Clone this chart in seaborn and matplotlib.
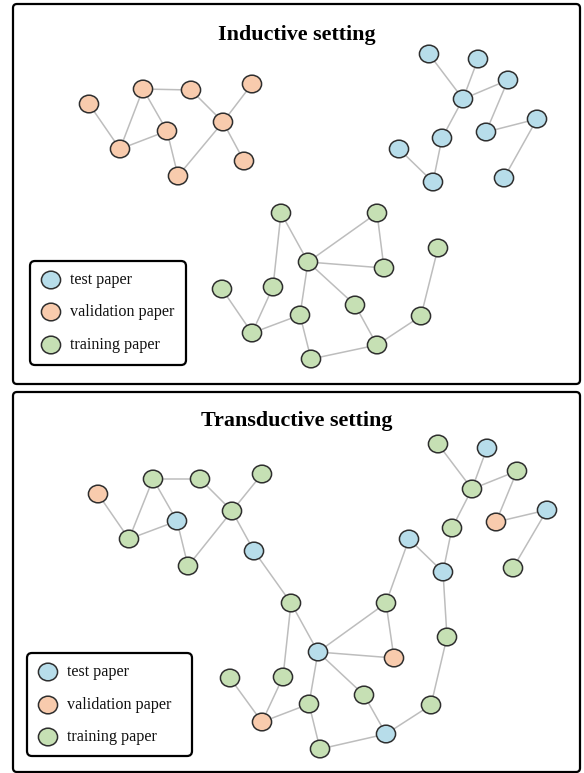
import matplotlib
matplotlib.use("Agg")
import matplotlib.pyplot as plt
import seaborn as sns
import pandas as pd
import numpy as np
from matplotlib.patches import FancyBboxPatch
from matplotlib.path import Path
from matplotlib.transforms import Affine2D
from matplotlib.collections import LineCollection

# ---------------- data ----------------
titles = ["Inductive setting", "Transductive setting"]
legend_kinds = ["test", "validation", "training"]
legend_labels = ["test paper", "validation paper", "training paper"]

ind_x = [89, 143, 191, 252, 223, 167, 120, 178, 244,
         429, 478, 508, 463, 537, 486, 442, 399, 433, 504,
         281, 377, 308, 384, 438, 222, 273, 300, 355, 421, 252, 377, 311]
ind_y = [104, 89, 90, 84, 122, 131, 149, 176, 161,
         54, 59, 80, 99, 119, 132, 138, 149, 182, 178,
         213, 213, 262, 268, 248, 289, 287, 315, 305, 316, 333, 345, 359]
ind_kind = ["validation"] * 9 + ["test"] * 10 + ["training"] * 13
ind_edges = [(0, 6), (6, 1), (6, 5), (1, 2), (1, 5), (5, 7), (7, 4), (2, 4), (4, 3), (4, 8),
             (9, 12), (10, 12), (12, 11), (11, 14), (14, 13), (13, 18), (12, 15), (15, 17), (17, 16),
             (19, 25), (19, 21), (21, 20), (21, 22), (20, 22), (21, 26), (21, 27), (27, 30),
             (26, 31), (31, 30), (30, 28), (28, 23), (24, 29), (29, 25), (29, 26)]

tra_x = [98, 153, 200, 262, 232, 177, 129, 188, 254,
         438, 487, 517, 472, 547, 496, 452, 409, 443, 513,
         291, 386, 318, 394, 447, 364, 309, 431, 386, 320, 230, 283, 262]
tra_y = [494, 479, 479, 474, 511, 521, 539, 566, 551,
         444, 448, 471, 489, 510, 522, 528, 539, 572, 568,
         603, 603, 652, 658, 637, 695, 704, 705, 734, 749, 678, 677, 722]
tra_kind = ["validation", "training", "training", "training", "training", "test", "training", "training", "test",
            "training", "test", "training", "training", "test", "validation", "training", "test", "test", "training",
            "training", "training", "test", "validation", "training", "training", "training", "training", "test",
            "training", "training", "training", "validation"]
tra_edges = [(0, 6), (6, 1), (6, 5), (1, 2), (1, 5), (5, 7), (7, 4), (2, 4), (4, 3), (4, 8),
             (9, 12), (10, 12), (12, 11), (11, 14), (14, 13), (13, 18), (12, 15), (15, 17), (17, 16),
             (19, 30), (19, 21), (21, 20), (21, 22), (20, 22), (21, 25), (21, 24), (24, 27),
             (25, 28), (28, 27), (27, 26), (26, 23), (29, 31), (31, 30), (31, 25),
             (8, 19), (16, 20), (17, 23)]

palette = {"test": "#B7DDEA", "validation": "#F8CBAD", "training": "#C6E0B4"}

# ---------------- drawing ----------------
sns.set_theme(style="white")
plt.rcParams["font.family"] = ["Liberation Serif", "DejaVu Serif"]

W, H = 584, 773
fig = plt.figure(figsize=(W / 100, H / 100), dpi=100)
ax = fig.add_axes([0, 0, 1, 1])
ax.set_xlim(0, W)
ax.set_ylim(H, 0)
ax.axis("off")

ell = Path.unit_circle().transformed(Affine2D().scale(1.0, 0.92))
node_s = 190
edge_c = "#BDBDBD"
node_ec = "#2E2E2E"

panels = [
    dict(title=titles[0], x=ind_x, y=ind_y, kind=ind_kind, edges=ind_edges,
         box=(13, 4, 580, 384), title_y=35, leg=(30, 261, 186, 365), leg_cx=51, leg_tx=70,
         leg_y=[280, 312, 345]),
    dict(title=titles[1], x=tra_x, y=tra_y, kind=tra_kind, edges=tra_edges,
         box=(13, 392, 580, 772), title_y=421, leg=(27, 653, 192, 756), leg_cx=48, leg_tx=67,
         leg_y=[672, 705, 737]),
]

for p in panels:
    x0, y0, x1, y1 = p["box"]
    ax.add_patch(FancyBboxPatch((x0, y0), x1 - x0, y1 - y0,
                                boxstyle="round,pad=0,rounding_size=4",
                                fc="white", ec="black", lw=1.6, zorder=0))
    ax.text((x0 + x1) / 2, p["title_y"], p["title"], ha="center", va="center",
            fontsize=15.8, fontweight="bold", color="black", zorder=5)

    df = pd.DataFrame({"x": p["x"], "y": p["y"], "kind": p["kind"]})
    segs = [[(df.x[a], df.y[a]), (df.x[b], df.y[b])] for a, b in p["edges"]]
    ax.add_collection(LineCollection(segs, colors=edge_c, linewidths=1.1, zorder=1))
    sns.scatterplot(data=df, x="x", y="y", hue="kind", palette=palette, marker=ell,
                    s=node_s, edgecolor=node_ec, linewidth=1.1, legend=False, ax=ax, zorder=3)

    lx0, ly0, lx1, ly1 = p["leg"]
    ax.add_patch(FancyBboxPatch((lx0, ly0), lx1 - lx0, ly1 - ly0,
                                boxstyle="round,pad=0,rounding_size=5",
                                fc="white", ec="black", lw=1.6, zorder=2))
    ldf = pd.DataFrame({"x": [p["leg_cx"]] * 3, "y": p["leg_y"], "kind": legend_kinds})
    sns.scatterplot(data=ldf, x="x", y="y", hue="kind", palette=palette, marker=ell,
                    s=node_s, edgecolor=node_ec, linewidth=1.1, legend=False, ax=ax, zorder=4)
    for yy, lab in zip(p["leg_y"], legend_labels):
        ax.text(p["leg_tx"], yy, lab, ha="left", va="center", fontsize=11.6, color="#111111", zorder=5)

ax.set_xlim(0, W)
ax.set_ylim(H, 0)
ax.set_xlabel("")
ax.set_ylabel("")
fig.savefig("out.png", dpi=100)
